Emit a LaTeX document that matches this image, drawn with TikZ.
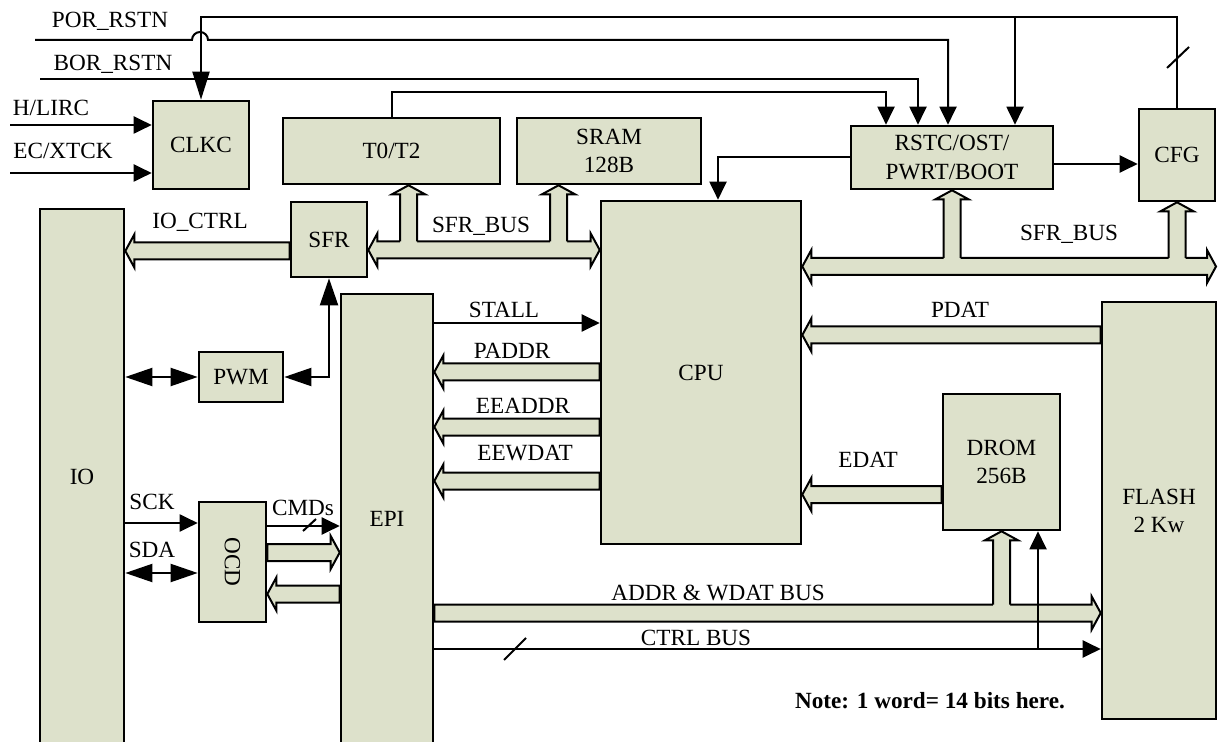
\documentclass[tikz,border=0pt]{standalone}
\usepackage{fontspec}
\setmainfont{Liberation Serif}
\usepackage{graphicx}
\usetikzlibrary{arrows.meta, calc, positioning}
\definecolor{blkfill}{HTML}{DDE1CB}
\newcommand{\lbltext}{\fontsize{11.6}{14}\selectfont}
% fat bus arrow from #1 to #2 (head), at height #3
\newcommand{\hbus}[3]{%
  \path[bus] let \p1=#1, \p2=#2, \p3=(0,#3), \n1={sign(\x2-\x1)*4.5pt} in
    (\x1,\y3+4.25pt) -- (\x2-\n1,\y3+4.25pt) -- (\x2-\n1,\y3+8.25pt)
    -- (\x2,\y3) -- (\x2-\n1,\y3-8.25pt) -- (\x2-\n1,\y3-4.25pt)
    -- (\x1,\y3-4.25pt) -- cycle;}
% fat bus arrow, heads at both ends
\newcommand{\dbus}[3]{%
  \path[bus] let \p1=#1, \p2=#2, \p3=(0,#3), \n1={sign(\x2-\x1)*4.5pt} in
    (\x1,\y3) -- (\x1+\n1,\y3+8.25pt) -- (\x1+\n1,\y3+4.25pt)
    -- (\x2-\n1,\y3+4.25pt) -- (\x2-\n1,\y3+8.25pt) -- (\x2,\y3)
    -- (\x2-\n1,\y3-8.25pt) -- (\x2-\n1,\y3-4.25pt)
    -- (\x1+\n1,\y3-4.25pt) -- (\x1+\n1,\y3-8.25pt) -- cycle;}
% branch of a bus at height #2, head at #1
\newcommand{\vbranch}[2]{%
  \path[busfill] let \p1=#1, \p3=(0,#2), \n1={sign(\y1-\y3)*4.5pt} in
    (\x1-4.25pt,\y3) -- (\x1-4.25pt,\y1-\n1) -- (\x1-8.25pt,\y1-\n1)
    -- (\x1,\y1) -- (\x1+8.25pt,\y1-\n1) -- (\x1+4.25pt,\y1-\n1)
    -- (\x1+4.25pt,\y3) -- cycle;
  \path[busline] let \p1=#1, \p3=(0,#2), \n1={sign(\y1-\y3)*4.5pt}, \n2={sign(\y1-\y3)*4.25pt} in
    (\x1-4.25pt,\y3+\n2) -- (\x1-4.25pt,\y1-\n1) -- (\x1-8.25pt,\y1-\n1)
    -- (\x1,\y1) -- (\x1+8.25pt,\y1-\n1) -- (\x1+4.25pt,\y1-\n1)
    -- (\x1+4.25pt,\y3+\n2);}

\begin{document}
\begin{tikzpicture}[x=0.5pt, y=-0.5pt,
    blk/.style   = {draw, line width=1.3pt, fill=blkfill, inner sep=0pt,
                    align=center, font=\lbltext},
    lbl/.style   = {inner sep=0pt, text height=7.6pt, text depth=0pt, font=\lbltext},
    arr/.style   = {-{Triangle[length=9pt,width=8.5pt]}, line width=1pt},
    arrl/.style  = {-{Triangle[length=14pt,width=8.5pt]}, line width=1pt},
    darr/.style  = {{Triangle[length=13.5pt,width=9pt]}-{Triangle[length=13.5pt,width=9pt]},
                    line width=1pt},
    bus/.style   = {draw, line width=1pt, fill=blkfill},
    busfill/.style = {fill=blkfill},
    busline/.style = {draw, line width=1pt},
  ]
    \useasboundingbox (0,0) rectangle (1218,742);

    % ── Blocks ───────────────────────────────────────────────
    \node[blk, minimum width=48pt,   minimum height=44pt]    (clkc)  at (201,145)    {CLKC};
    \node[blk, minimum width=108.5pt, minimum height=33pt]   (t0t2)  at (391.5,151)  {T0/T2};
    \node[blk, minimum width=92pt,   minimum height=33pt]    (sram)  at (609,151)    {SRAM\\128B};
    \node[blk, minimum width=101pt,  minimum height=31.5pt]  (rstc)  at (952,157.5)  {RSTC/OST/\\PWRT/BOOT};
    \node[blk, minimum width=38pt,   minimum height=46pt]    (cfg)   at (1177,155)   {CFG};
    \node[blk, minimum width=38pt,   minimum height=37.5pt]  (sfr)   at (329,239.5)  {SFR};
    \node[blk, minimum width=100pt,  minimum height=171.5pt] (cpu)   at (701,372.5)  {CPU};
    \node[blk, minimum width=42pt,   minimum height=267.5pt] (io)    at (82,476.5)   {IO};
    \node[blk, minimum width=46pt,   minimum height=225pt]   (epi)   at (387,519)    {EPI};
    \node[blk, minimum width=42pt,   minimum height=25pt]    (pwm)   at (241,377)    {PWM};
    \node[blk, minimum width=33.5pt, minimum height=60pt]    (ocd)   at (232.5,562)  {\rotatebox{-90}{OCD}};
    \node[blk, minimum width=58.5pt, minimum height=68pt]    (drom)  at (1001.5,462) {DROM\\256B};
    \node[blk, minimum width=57pt,   minimum height=208.5pt] (flash) at (1159,510.5) {FLASH\\2 Kw};

    % ── Free ends ────────────────────────────────────────────
    \coordinate (hin)     at (10,125);
    \coordinate (ecin)    at (10,173);
    \coordinate (por)     at (35,40);
    \coordinate (hop)     at (192,40);
    \coordinate (bor)     at (40,79);
    \coordinate (cfgtap)  at (1015,17);
    \coordinate (ctrltap) at (1038,649);
    \coordinate (sfrend)  at (1216,266.5);

    % ── Buses ────────────────────────────────────────────────
    \hbus{(sfr.west)}{(io.east)}{251}
    \dbus{(sfr.east)}{(cpu.west)}{250}
    \vbranch{([xshift=8.5pt]t0t2.south)}{250}
    \vbranch{([xshift=-25.25pt]sram.south)}{250}
    \dbus{(cpu.east)}{(sfrend)}{266.5}
    \vbranch{(rstc.south)}{266.5}
    \vbranch{(cfg.south)}{266.5}
    \hbus{(flash.west)}{(cpu.east)}{335}
    \hbus{(drom.west)}{(cpu.east)}{494.5}
    \hbus{(cpu.west)}{(epi.east)}{372}
    \hbus{(cpu.west)}{(epi.east)}{427}
    \hbus{(cpu.west)}{(epi.east)}{481}
    \hbus{(ocd.east)}{(epi.west)}{552.5}
    \hbus{(epi.west)}{(ocd.east)}{594}
    \hbus{(epi.east)}{(flash.west)}{613}
    \vbranch{(drom.south)}{613}

    % ── Signals ──────────────────────────────────────────────
    \draw[arr]  (hin) -- (hin -| clkc.west);
    \draw[arr]  (ecin) -- (ecin -| clkc.west);
    \draw[arrl] (cfg.north) |- (cfgtap) -| (clkc.north);
    \draw[arr]  (cfgtap) -- (cfgtap |- rstc.north);
    \draw[arr]  (por) -- (hop) arc[start angle=180, end angle=360, radius=8]
                -| ([xshift=-2pt]rstc.north);
    \draw[arr]  (bor) -| ([xshift=-17pt]rstc.north);
    \draw[arr]  (t0t2.north) -- ++(0,-25) -| ([xshift=-33pt]rstc.north);
    \draw[arr]  (rstc.west) -| ([xshift=8.5pt]cpu.north);
    \draw[arr]  ([yshift=-3.25pt]rstc.east) coordinate (r2c) -- (r2c -| cfg.west);
    \draw[darr] (io.east |- pwm.west) -- (pwm.west);
    \draw[darr] (pwm.east) -| (sfr.south);
    \draw[arr]  (epi.east |- 0,323) -- (cpu.west |- 0,323);
    \draw[arr]  (io.east |- 0,523) -- (ocd.west |- 0,523);
    \draw[darr] (io.east |- 0,573) -- (ocd.west |- 0,573);
    \draw[arr]  (ocd.east |- 0,526) -- (epi.west |- 0,526);
    \draw[arr]  (epi.east |- 0,649) -- (flash.west |- 0,649);
    \draw[arr]  (ctrltap) -- (ctrltap |- drom.south);

    % bus width marks
    \draw[line width=1pt] (1167,68) -- (1189,47);
    \draw[line width=1pt] (303,531) -- (316,519);
    \draw[line width=1pt] (504,660) -- (526,638);

    % ── Labels ───────────────────────────────────────────────
    \node[lbl] (lpor)   at (110,20)  {POR\_RSTN};
    \node[lbl] (lbor)   at (113,63)  {BOR\_RSTN};
    \node[lbl] (lhl)    at (51,108)  {H/LIRC};
    \node[lbl] (lec)    at (63,151)  {EC/XTCK};
    \node[lbl] (lioc)   at (200,221) {IO\_CTRL};
    \node[lbl] (lsfrb)  at (481,225) {SFR\_BUS};
    \node[lbl] (lsfrb2) at (1069,233) {SFR\_BUS};
    \node[lbl] (lstall) at (504,310) {STALL};
    \node[lbl] (lpaddr) at (512,351) {PADDR};
    \node[lbl] (leea)   at (523,406) {EEADDR};
    \node[lbl] (leew)   at (525,453) {EEWDAT};
    \node[lbl] (lpdat)  at (960,310) {PDAT};
    \node[lbl] (ledat)  at (868,460) {EDAT};
    \node[lbl] (lsck)   at (152,502) {SCK};
    \node[lbl] (lsda)   at (152,550) {SDA};
    \node[lbl] (lcmd)   at (303,508) {CMDs};
    \node[lbl] (laddr)  at (718,593) {ADDR \& WDAT BUS};
    \node[lbl] (lctrl)  at (696,638) {CTRL BUS};
    \node[lbl, font=\lbltext\bfseries] (lnote) at (930,701) {Note: 1 word= 14 bits here.};

  \end{tikzpicture}
\end{document}
